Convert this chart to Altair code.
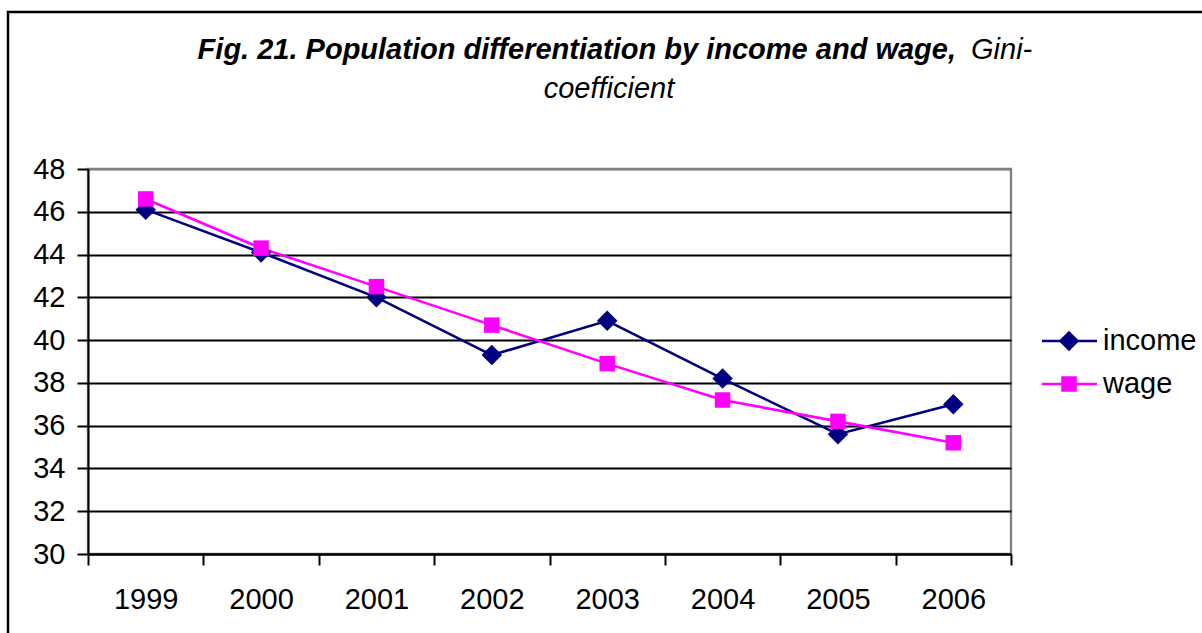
import altair as alt
import pandas as pd

# Gini coefficients by year
years = ["1999", "2000", "2001", "2002", "2003", "2004", "2005", "2006"]
income = [46.1, 44.1, 42.0, 39.3, 40.9, 38.2, 35.6, 37.0]
wage = [46.6, 44.3, 42.5, 40.7, 38.9, 37.2, 36.2, 35.2]

series_names = ["income", "wage"]
series_colors = ["#000080", "#FF00FF"]
series_shapes = ["diamond", "square"]
series_sizes = [420, 240]
y_ticks = [30, 32, 34, 36, 38, 40, 42, 44, 46, 48]

FONT = "Liberation Sans"
W, H = 923, 385

df = pd.DataFrame(
    [{"year": y, "series": "income", "value": v} for y, v in zip(years, income)]
    + [{"year": y, "series": "wage", "value": v} for y, v in zip(years, wage)]
)

x_enc = alt.X(
    "year:N",
    sort=years,
    scale=alt.Scale(paddingInner=0, paddingOuter=0),
    axis=alt.Axis(
        title="",
        labelAngle=0,
        tickBand="extent",
        tickSize=11,
        tickWidth=2,
        tickColor="black",
        domainColor="black",
        domainWidth=2,
        labelPadding=20,
        grid=False,
    ),
)
y_enc = alt.Y(
    "value:Q",
    scale=alt.Scale(domain=[30, 48], nice=False, zero=False),
    axis=alt.Axis(
        title="",
        values=y_ticks,
        tickSize=11,
        tickWidth=2,
        tickColor="black",
        domainColor="black",
        domainWidth=2,
        labelPadding=12,
        grid=True,
        gridColor={"condition": {"test": "datum.value === 48", "value": "#808080"}, "value": "black"},
        gridWidth=1.8,
    ),
)
color_enc = alt.Color(
    "series:N",
    scale=alt.Scale(domain=series_names, range=series_colors),
    legend=None,
)
shape_enc = alt.Shape(
    "series:N",
    scale=alt.Scale(domain=series_names, range=series_shapes),
    legend=None,
)
size_enc = alt.Size(
    "series:N",
    scale=alt.Scale(domain=series_names, range=series_sizes),
    legend=None,
)

base = alt.Chart(df)
lines = base.mark_line(strokeWidth=2.6).encode(x=x_enc, y=y_enc, color=color_enc)
points = base.mark_point(filled=True, opacity=1).encode(
    x=x_enc, y=y_enc, color=color_enc, shape=shape_enc, size=size_enc
)

one = pd.DataFrame({"k": [0]})

# outer chart frame
frame = alt.Chart(one).mark_rect(
    fillOpacity=0, stroke="black", strokeWidth=2.5
).encode(
    x=alt.value(-80), x2=alt.value(1140), y=alt.value(-157), y2=alt.value(490)
)

# legend entries
legend_layers = []
for i, (name, col, shp, sz) in enumerate(zip(series_names, series_colors, series_shapes, series_sizes)):
    ly = 172 + i * 43
    ldf = pd.DataFrame({"series": [name]})
    legend_layers.append(
        alt.Chart(ldf).mark_rule(color=col, strokeWidth=2.6).encode(
            x=alt.value(954), x2=alt.value(1009), y=alt.value(ly)
        )
    )
    legend_layers.append(
        alt.Chart(ldf).mark_point(filled=True, opacity=1, size=sz, color=col, shape=shp).encode(
            x=alt.value(981), y=alt.value(ly)
        )
    )
    legend_layers.append(
        alt.Chart(ldf).mark_text(
            align="left", baseline="middle", font=FONT, fontSize=29, color="black"
        ).encode(x=alt.value(1015), y=alt.value(ly), text="series:N")
    )

# title: bold italic lead, regular italic unit
title_df = pd.DataFrame({
    "bold": ["Fig. 21. Population differentiation by income and wage,"],
    "unit1": ["Gini-"],
    "unit2": ["coefficient"],
})
t1 = alt.Chart(title_df).mark_text(
    align="right", baseline="alphabetic", font=FONT, fontSize=29,
    fontWeight="bold", fontStyle="italic", color="black"
).encode(x=alt.value(868), y=alt.value(-110), text="bold:N")
t2 = alt.Chart(title_df).mark_text(
    align="left", baseline="alphabetic", font=FONT, fontSize=29,
    fontStyle="italic", color="black"
).encode(x=alt.value(883), y=alt.value(-110), text="unit1:N")
t3 = alt.Chart(title_df).mark_text(
    align="center", baseline="alphabetic", font=FONT, fontSize=29,
    fontStyle="italic", color="black"
).encode(x=alt.value(521), y=alt.value(-71), text="unit2:N")

chart = alt.layer(
    frame, lines, points, *legend_layers, t1, t2, t3
).properties(
    width=W,
    height=H,
    padding={"left": 88, "top": 169, "right": 1202 - 88 - W, "bottom": 633 - 169 - H},
    autosize=alt.AutoSizeParams(type="none"),
    background="white",
).configure_axis(
    labelFont=FONT, labelFontSize=29, labelColor="black"
).configure_view(
    stroke="#808080", strokeWidth=2.3
)

chart.save("out.html", embed_options={"renderer": "svg", "actions": False})
